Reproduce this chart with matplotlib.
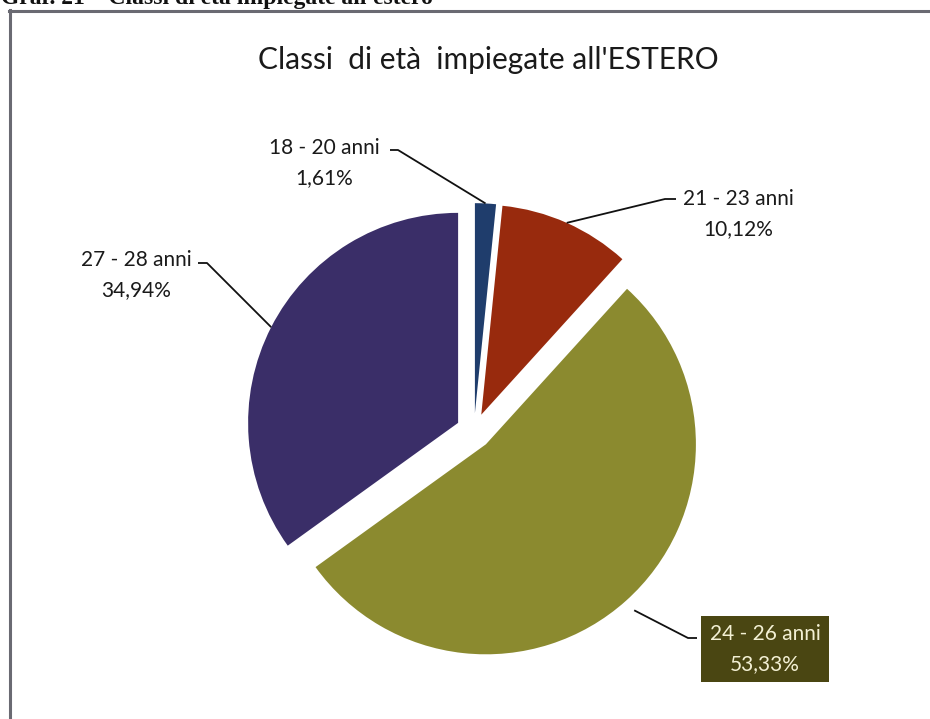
import numpy as np
import matplotlib.pyplot as plt
from matplotlib.lines import Line2D

# Data
classi = ['18 - 20 anni', '21 - 23 anni', '24 - 26 anni', '27 - 28 anni']
valori = [1.61, 10.12, 53.33, 34.94]
perc_txt = ['1,61%', '10,12%', '53,33%', '34,94%']
colori = ['#1f3d6c', '#982a0d', '#8b8a2f', '#3a2e68']

W, H = 930, 719
CX, CY, R = 474, 431, 210   # pie centre / radius in pixels
EXPL = 0.085


def px(x, y):
    # pixel position (top-left origin) -> data coords
    return (x - CX) / R, (CY - y) / R


fig = plt.figure(figsize=(W / 100, H / 100), dpi=100)
ax = fig.add_axes([0, 0, 1, 1])

wedges, _ = ax.pie(valori, colors=colori, startangle=90, counterclock=False,
                   explode=[EXPL] * 4, radius=1)
ax.set_xlim(px(0, 0)[0], px(W, 0)[0])
ax.set_ylim(px(0, H)[1], px(0, 0)[1])
ax.axis('off')

font = 'Lato'
lab_size = 15

# label layout: text centre, elbow point, end of line near text
layout = [
    dict(txt=(324, 163), elbow=(398, 150), end=(390, 150), tip_r=1.0),
    dict(txt=(738, 214), elbow=(665, 199), end=(676, 199), tip_r=1.0),
    dict(txt=(765, 649), elbow=(688, 638), end=(697, 638), tip_r=1.06),
    dict(txt=(136, 275), elbow=(207, 263), end=(198, 263), tip_r=1.0),
]

for w, c, p, lay in zip(wedges, classi, perc_txt, layout):
    mid = np.deg2rad((w.theta1 + w.theta2) / 2)
    cx, cy = w.center
    tip = (cx + lay['tip_r'] * np.cos(mid), cy + lay['tip_r'] * np.sin(mid))
    ex, ey = px(*lay['elbow'])
    nx, ny = px(*lay['end'])
    ax.plot([tip[0], ex, nx], [tip[1], ey, ny], color='#111111', lw=1.3,
            solid_capstyle='butt')
    tx, ty = px(*lay['txt'])
    if c == '24 - 26 anni':
        ax.text(tx, ty, c + '\n' + p, ha='center', va='center', fontsize=lab_size,
                family=font, color='#f3f0d4', linespacing=1.6,
                bbox=dict(boxstyle='square,pad=0.4', fc='#4a4612', ec='none'))
    else:
        ax.text(tx, ty, c + '\n' + p, ha='center', va='center', fontsize=lab_size,
                family=font, color='#1a1a1a', linespacing=1.6)

# chart title
fig.text(488 / W, 1 - 69 / H, "Classi  di età  impiegate all'ESTERO",
         ha='center', va='baseline', fontsize=21.5, family=font, color='#1a1a1a')

# page caption, cut off at the top edge
fig.text(1 / W, 1 - 4 / H, "Graf. 21 \u2013 Classi di età impiegate all'estero",
         ha='left', va='baseline', fontsize=17, family='Liberation Serif',
         weight='bold', color='#111111')

# chart frame (runs off the page right and bottom)
fig.add_artist(Line2D([10 / W, 10 / W], [1 - 10 / H, 0], transform=fig.transFigure,
                      color='#6a6a72', lw=2.2))
fig.add_artist(Line2D([9 / W, 1], [1 - 11 / H, 1 - 11 / H], transform=fig.transFigure,
                      color='#6a6a72', lw=2.2))

fig.savefig('out.png', dpi=100)
